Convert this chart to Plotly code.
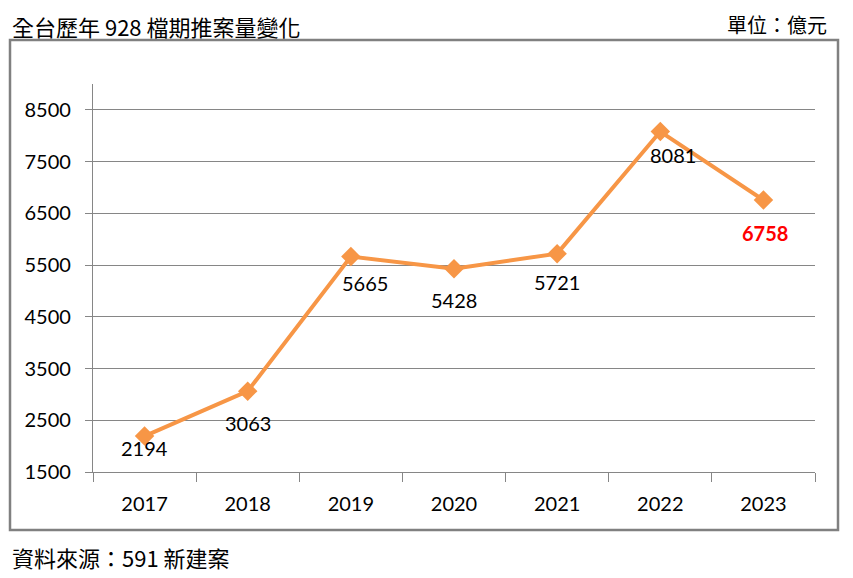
import plotly.graph_objects as go

years = ["2017", "2018", "2019", "2020", "2021", "2022", "2023"]
values = [2194, 3063, 5665, 5428, 5721, 8081, 6758]
y_ticks = [1500, 2500, 3500, 4500, 5500, 6500, 7500, 8500]

# label offsets (px) relative to each point
label_dx = [0, 0, 14, 0, 0, 13, 2]
label_dy = [-12, -32, -26, -31, -28, -23, -33]

OFF = 8  # page body margin
W, H = 853 - OFF, 578 - OFF
L, R, T, B = 93 - OFF, 38, 84 - OFF, 106
pw, ph = W - L - R, H - T - B

def px(x):
    return (x - OFF - L) / pw

def py(y):
    return (H - B - (y - OFF)) / ph

LAT = "Lato, 'Noto Sans CJK TC', sans-serif"
CJK = "'Noto Sans CJK TC', sans-serif"
ORANGE = "#F79646"
GRID = "#868686"

fig = go.Figure()
fig.add_trace(go.Scatter(
    x=years, y=values, mode="lines+markers",
    line=dict(color=ORANGE, width=4),
    marker=dict(symbol="diamond", size=15, color=ORANGE),
    showlegend=False, hoverinfo="x+y",
))

for i, v in enumerate(values):
    last = i == len(values) - 1
    fig.add_annotation(
        x=i, y=v, xref="x", yref="y", text=f"<b>{v}</b>" if last else str(v),
        showarrow=False, xshift=label_dx[i], yshift=label_dy[i],
        font=dict(family=LAT, size=20, color="#FF0000" if last else "#000000"),
    )

fig.add_shape(type="rect", xref="paper", yref="paper",
              x0=px(10), x1=px(838), y0=py(530), y1=py(40),
              line=dict(color="#808080", width=2.5), layer="below")

fig.add_annotation(xref="paper", yref="paper", x=px(10), y=py(8),
                   xanchor="left", yanchor="top", showarrow=False,
                   text="全台歷年 928 檔期推案量變化",
                   font=dict(family=CJK, size=22, color="#000000"))
fig.add_annotation(xref="paper", yref="paper", x=px(829), y=py(8),
                   xanchor="right", yanchor="top", showarrow=False,
                   text="單位：億元",
                   font=dict(family=CJK, size=20, color="#000000"))
fig.add_annotation(xref="paper", yref="paper", x=px(10), y=py(557),
                   xanchor="left", yanchor="middle", showarrow=False,
                   text="資料來源：591 新建案",
                   font=dict(family=CJK, size=22, color="#000000"))

fig.update_layout(
    width=W, height=H,
    margin=dict(l=L, r=R, t=T, b=B),
    paper_bgcolor="white", plot_bgcolor="white",
    font=dict(family=LAT, size=20, color="#000000"),
)
fig.update_xaxes(
    type="category", categoryorder="array", categoryarray=years,
    range=[-0.5, 6.5], automargin=False,
    tickson="boundaries", ticks="outside", ticklen=9, tickcolor=GRID,
    showline=True, linecolor=GRID, linewidth=1.3,
    showgrid=False, tickfont=dict(family=LAT, size=20),
    ticklabelstandoff=14,
)
fig.update_yaxes(
    range=[1500, 9000], tickvals=y_ticks, ticktext=[str(t) for t in y_ticks],
    automargin=False,
    ticks="outside", ticklen=7, tickcolor=GRID,
    showline=True, linecolor=GRID, linewidth=1.3,
    showgrid=True, gridcolor=GRID, gridwidth=1.3, zeroline=False,
    tickfont=dict(family=LAT, size=20), ticklabelstandoff=10,
)

fig.write_html("out.html")
